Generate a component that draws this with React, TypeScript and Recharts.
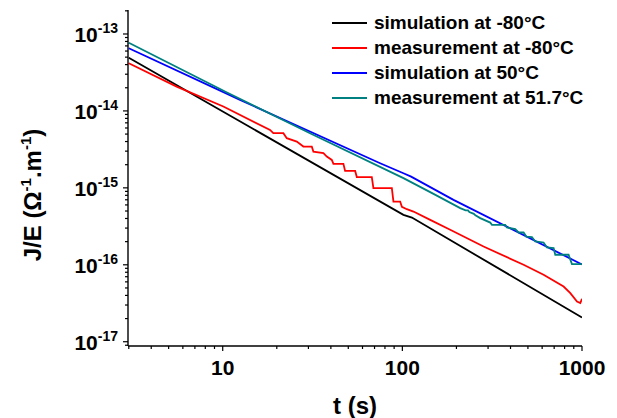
import React from 'react';
import { LineChart, Line, XAxis, YAxis, Legend, Label } from 'recharts';

const FONT = "'Liberation Sans', Arial, sans-serif";

// x ticks (log decades + minors), y ticks (log decades + minors)
const xTicks = [3, 4, 5, 6, 7, 8, 9, 10, 20, 30, 40, 50, 60, 70, 80, 90, 100, 200, 300, 400, 500, 600, 700, 800, 900, 1000];
const yTicks = [
  9e-18,
  1e-17, 2e-17, 3e-17, 4e-17, 5e-17, 6e-17, 7e-17, 8e-17, 9e-17,
  1e-16, 2e-16, 3e-16, 4e-16, 5e-16, 6e-16, 7e-16, 8e-16, 9e-16,
  1e-15, 2e-15, 3e-15, 4e-15, 5e-15, 6e-15, 7e-15, 8e-15, 9e-15,
  1e-14, 2e-14, 3e-14, 4e-14, 5e-14, 6e-14, 7e-14, 8e-14, 9e-14,
  1e-13, 2e-13,
];

// simulation at -80°C
const simColdT = [3, 101.4, 113, 1000];
const simColdJ = [4.9e-14, 4.46e-16, 4.11e-16, 2.07e-17];

// measurement at -80°C
const measColdT = [
  3, 5.54, 10.08, 18.34, 19.13, 21.76, 22.73, 25.84, 28.12, 31.32, 31.97, 36.35, 37.97, 40.48,
  41.33, 46.97, 48.0, 54.6, 55.78, 67.6, 69.0, 87.4, 89.2, 97.2, 99.4, 105.9, 115.3, 142.9,
  184.6, 283.1, 473, 611, 790, 861, 938, 978, 1000,
];
const measColdJ = [
  4.16e-14, 2.07e-14, 1.14e-14, 5.66e-15, 5.13e-15, 5.13e-15, 4.42e-15, 3.99e-15, 3.44e-15, 3.44e-15,
  2.96e-15, 2.82e-15, 2.55e-15, 2.31e-15, 2.05e-15, 2.05e-15, 1.66e-15, 1.66e-15, 1.38e-15, 1.38e-15,
  9.9e-16, 9.9e-16, 6.64e-16, 6.64e-16, 5.66e-16, 5.28e-16, 4.92e-16, 3.84e-16, 2.85e-16, 1.73e-16,
  1.0e-16, 7.41e-17, 5.22e-17, 4.28e-17, 3.33e-17, 3.18e-17, 3.61e-17,
];

// simulation at 50°C
const simHotT = [3, 12.49, 75.2, 101.4, 111.9, 192.6, 1000];
const simHotJ = [6.52e-14, 1.39e-14, 2.09e-15, 1.55e-15, 1.4e-15, 6.98e-16, 1.01e-16];

// measurement at 51.7°C
const measHotT = [
  3, 10.5, 30.6, 101.4, 150, 209.9, 225, 232, 236, 250, 255, 271.3, 308.4, 315.2, 373.8,
  382, 425, 443.6, 472.9, 489.5, 526.5, 549.4, 611, 638.3, 695, 710, 842, 879, 1000,
];
const measHotJ = [
  7.7e-14, 1.75e-14, 5.13e-15, 1.34e-15, 8.3e-16, 5.45e-16, 5.1e-16, 5.1e-16, 4.85e-16,
  4.6e-16, 4.4e-16, 4.04e-16, 3.54e-16, 3.3e-16, 3.3e-16, 3.05e-16, 2.91e-16, 2.63e-16, 2.63e-16,
  2.33e-16, 2.29e-16, 2.01e-16, 1.95e-16, 1.68e-16, 1.65e-16, 1.35e-16, 1.35e-16, 1.02e-16, 1.02e-16,
];

const toRows = (ts: number[], js: number[]) => ts.map((t, i) => ({ t, j: js[i] }));

const series = [
  { name: 'simulation at -80°C', color: '#000000', data: toRows(simColdT, simColdJ) },
  { name: 'measurement at -80°C', color: '#ff0000', data: toRows(measColdT, measColdJ) },
  { name: 'simulation at 50°C', color: '#0000ff', data: toRows(simHotT, simHotJ) },
  { name: 'measurement at 51.7°C', color: '#008080', data: toRows(measHotT, measHotJ) },
];

const isDecade = (v: number) => {
  const e = Math.log10(v);
  return Math.abs(e - Math.round(e)) < 1e-6;
};

const YTick = (props: any) => {
  const { x, y, payload } = props;
  const major = isDecade(payload.value);
  const e = Math.round(Math.log10(payload.value));
  return (
    <g>
      <line x1={x - (major ? 5 : 3)} x2={x} y1={y} y2={y} stroke="#000" strokeWidth={1.2} />
      {major && (
        <text x={x - 10} y={y + 8} textAnchor="end" fontFamily={FONT} fontWeight="bold" fontSize={21} fill="#000">
          <tspan>10</tspan>
          <tspan dy={-9} fontSize={14}>{e}</tspan>
        </text>
      )}
    </g>
  );
};

const XTick = (props: any) => {
  const { x, y, payload } = props;
  const major = isDecade(payload.value);
  return (
    <g>
      <line x1={x} x2={x} y1={y} y2={y + (major ? 5 : 3)} stroke="#000" strokeWidth={1.2} />
      {major && (
        <text x={x} y={y + 29} textAnchor="middle" fontFamily={FONT} fontWeight="bold" fontSize={21} fill="#000">
          {payload.value}
        </text>
      )}
    </g>
  );
};

const renderLegend = () => (
  <div style={{ fontFamily: FONT, fontWeight: 'bold', fontSize: 19, color: '#000' }}>
    {series.map((s) => (
      <div key={s.name} style={{ display: 'flex', alignItems: 'center', height: 24.8, whiteSpace: 'nowrap' }}>
        <div style={{ width: 35, height: 2, background: s.color, marginRight: 7 }} />
        <span>{s.name}</span>
      </div>
    ))}
  </div>
);

export default function App() {
  return (
    <div style={{ position: 'absolute', left: 0, top: 0, background: '#fff' }}>
      <LineChart width={617} height={418} margin={{ top: 10, right: 35, left: 0, bottom: 0 }}>
        <XAxis
          dataKey="t"
          type="number"
          scale="log"
          domain={[2.97, 1000]}
          allowDataOverflow
          ticks={xTicks}
          interval={0}
          tick={<XTick />}
          tickLine={false}
          tickSize={0}
          tickMargin={0}
          height={72}
          axisLine={{ stroke: '#000', strokeWidth: 1.4 }}
        >
          <Label
            content={(p: any) => {
              const vb = p.viewBox;
              return (
                <text x={vb.x + vb.width / 2} y={vb.y + vb.height - 4} textAnchor="middle" fontFamily={FONT} fontWeight="bold" fontSize={24} fill="#000">
                  t (s)
                </text>
              );
            }}
          />
        </XAxis>
        <YAxis
          type="number"
          scale="log"
          domain={[8.8e-18, 2.05e-13]}
          allowDataOverflow
          ticks={yTicks}
          interval={0}
          tick={<YTick />}
          tickLine={false}
          tickSize={0}
          tickMargin={0}
          width={128}
          axisLine={{ stroke: '#000', strokeWidth: 1.4 }}
        >
          <Label
            content={(p: any) => {
              const vb = p.viewBox;
              const cx = vb.x + 41;
              const cy = vb.y + vb.height / 2 + 17;
              return (
                <text x={cx} y={cy} transform={`rotate(-90 ${cx} ${cy})`} textAnchor="middle" fontFamily={FONT} fontWeight="bold" fontSize={24} fill="#000">
                  <tspan>J/E (Ω</tspan>
                  <tspan dy={-10} fontSize={15}>-1</tspan>
                  <tspan dy={10}>.m</tspan>
                  <tspan dy={-10} fontSize={15}>-1</tspan>
                  <tspan dy={10}>)</tspan>
                </text>
              );
            }}
          />
        </YAxis>
        <Legend
          layout="vertical"
          align="center"
          verticalAlign="middle"
          content={renderLegend}
          wrapperStyle={{ left: 332, top: 11, width: 260, height: 100 }}
        />
        {series.map((s) => (
          <Line
            key={s.name}
            data={s.data}
            dataKey="j"
            name={s.name}
            stroke={s.color}
            strokeWidth={1.8}
            dot={false}
            type="linear"
            isAnimationActive={false}
          />
        ))}
      </LineChart>
    </div>
  );
}
